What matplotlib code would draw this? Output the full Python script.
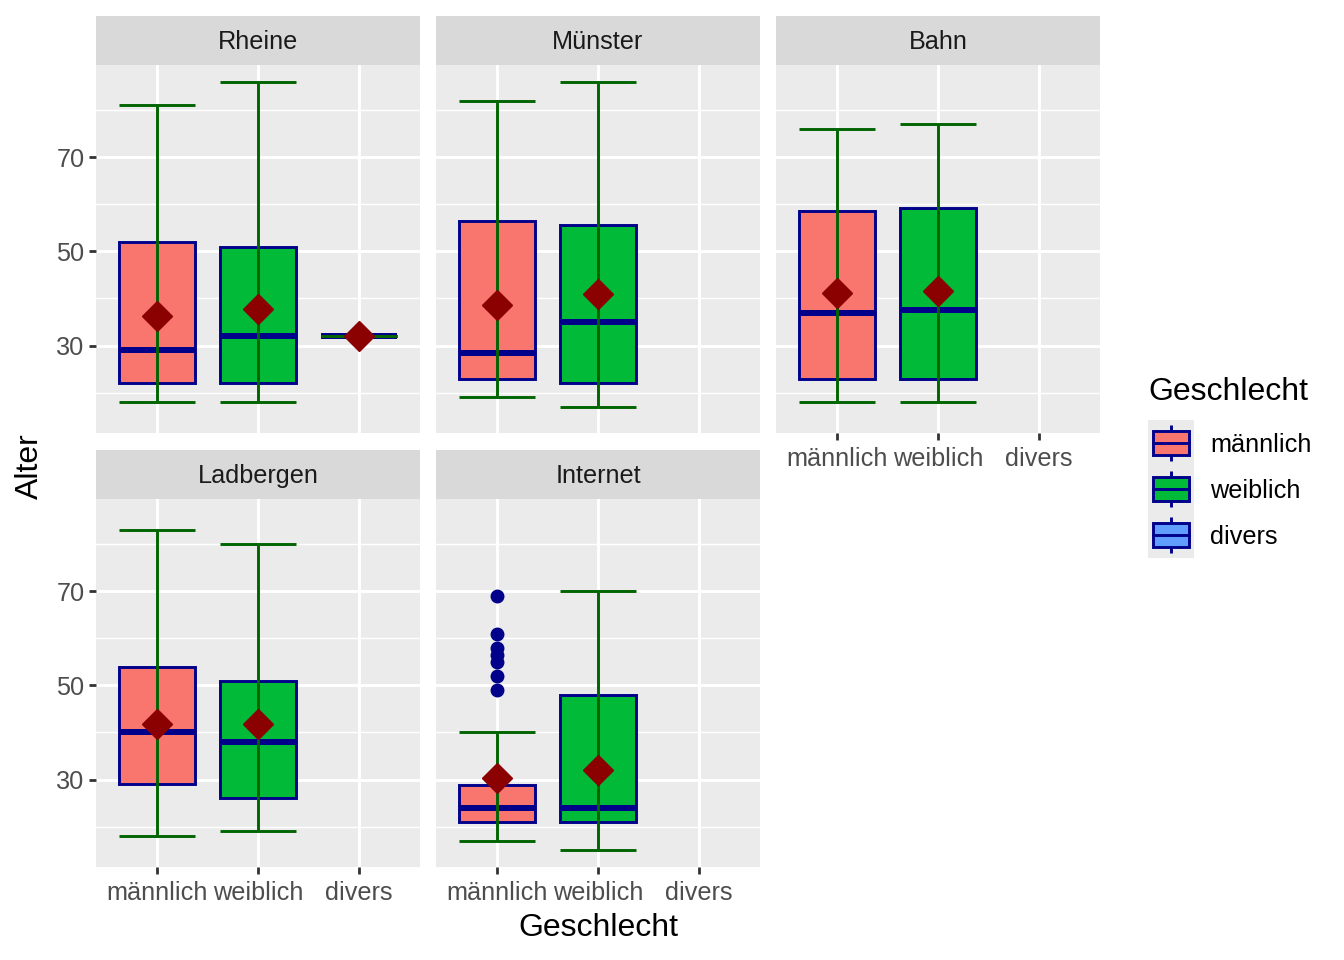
import matplotlib.pyplot as plt
from matplotlib.patches import Rectangle

plt.rcParams['font.family'] = ['Liberation Sans', 'DejaVu Sans']

W, H = 1344, 960

panels = ['Rheine', 'Münster', 'Bahn', 'Ladbergen', 'Internet']
genders = ['männlich', 'weiblich', 'divers']
fills = ['#F8766D', '#00BA38', '#619CFF']

# summary stats per panel, order: männlich, weiblich, divers (None = no data)
whislo = [[18, 18, 32], [19, 17, None], [18, 18, None], [18, 19, None], [17, 15, None]]
q1 = [[22, 22, 32], [23, 22, None], [23, 23, None], [29, 26, None], [21, 21, None]]
med = [[29, 32, 32], [28.5, 35, None], [37, 37.5, None], [40, 38, None], [24, 24, None]]
q3 = [[52, 51, 32], [56.5, 55.5, None], [58.5, 59.25, None], [54, 51, None], [28.75, 48, None]]
whishi = [[81, 86, 32], [82, 86, None], [76, 77, None], [83, 80, None], [40, 70, None]]
means = [[36.2, 37.7, 32], [38.7, 40.9, None], [41.1, 41.5, None], [41.7, 41.7, None], [30.4, 32.1, None]]
fliers = [[[], [], []], [[], [], []], [[], [], []], [[], [], []],
          [[69, 61, 58, 56.5, 55, 52, 49], [], []]]

ymin, ymax = 15, 86
pad = 0.05 * (ymax - ymin)

navy = '#00008B'
green = '#006400'
dred = '#8B0000'

fs_small = 18.2
fs_title = 23

fig = plt.figure(figsize=(W / 100, H / 100), dpi=100)

for i, name in enumerate(panels):
    row, col = divmod(i, 3)
    x0 = 96 + col * 340
    top = 16 + row * 434
    # strip
    sax = fig.add_axes([x0 / W, 1 - (top + 49) / H, 324 / W, 49 / H])
    sax.set_facecolor('#D9D9D9')
    sax.set_xticks([])
    sax.set_yticks([])
    for s in sax.spines.values():
        s.set_visible(False)
    sax.text(0.5, 0.46, name, ha='center', va='center', fontsize=fs_small, color='#1A1A1A',
             transform=sax.transAxes)

    ax = fig.add_axes([x0 / W, 1 - (top + 49 + 368) / H, 324 / W, 368 / H])
    ax.set_facecolor('#EBEBEB')
    for s in ax.spines.values():
        s.set_visible(False)

    stats, pos, cols = [], [], []
    for j in range(3):
        if med[i][j] is None:
            continue
        stats.append(dict(med=med[i][j], q1=q1[i][j], q3=q3[i][j],
                          whislo=whislo[i][j], whishi=whishi[i][j],
                          fliers=fliers[i][j]))
        pos.append(j + 1)
        cols.append(fills[j])
    bp = ax.bxp(stats, positions=pos, widths=0.75, patch_artist=True,
                showcaps=False, showfliers=True, manage_ticks=False,
                boxprops=dict(edgecolor=navy, linewidth=2.1),
                medianprops=dict(color=navy, linewidth=4.3, solid_capstyle='butt'),
                whiskerprops=dict(visible=False),
                flierprops=dict(marker='o', markerfacecolor=navy, markeredgecolor=navy,
                                markersize=9))
    for b, c in zip(bp['boxes'], cols):
        b.set_facecolor(c)

    for j in range(3):
        if med[i][j] is None:
            continue
        x = j + 1
        ax.vlines(x, whislo[i][j], whishi[i][j], color=green, linewidth=2.1, zorder=3)
        ax.hlines([whislo[i][j], whishi[i][j]], x - 0.375, x + 0.375, color=green,
                  linewidth=2.1, zorder=3)
        ax.plot(x, means[i][j], marker='D', color=dred, markersize=15,
                linestyle='none', zorder=4)

    ax.set_xlim(0.4, 3.6)
    ax.set_ylim(ymin - pad, ymax + pad)
    ax.set_xticks([1, 2, 3])
    ax.set_xticklabels(genders)
    ax.set_yticks([30, 50, 70])
    ax.set_yticks([20, 40, 60, 80], minor=True)
    ax.set_axisbelow(True)
    ax.grid(True, which='major', color='white', linewidth=2.1)
    ax.grid(True, which='minor', axis='y', color='white', linewidth=1.05)
    ax.tick_params(which='minor', length=0)
    ax.tick_params(which='major', length=5.3, width=2.0, color='#333333',
                   labelcolor='#4D4D4D', labelsize=fs_small, pad=3.0)
    ax.tick_params(axis='x', pad=5.0)

    show_x = row == 1 or i == 2
    show_y = col == 0
    ax.tick_params(axis='x', bottom=show_x, labelbottom=show_x)
    ax.tick_params(axis='y', left=show_y, labelleft=show_y)

fig.text(598 / W, 1 - 928 / H, 'Geschlecht', ha='center', va='center', fontsize=fs_title)
fig.text(30 / W, 1 - 466 / H, 'Alter', ha='center', va='center', fontsize=fs_title,
         rotation=90)

# legend
fig.text(1148 / W, 1 - 392 / H, 'Geschlecht', ha='left', va='center', fontsize=fs_title)
lax = fig.add_axes([1148 / W, 1 - 558 / H, 46 / W, 138 / H])
lax.set_xlim(0, 1)
lax.set_ylim(3, 0)
lax.axis('off')
for j, g in enumerate(genders):
    lax.add_patch(Rectangle((0, j), 1, 1, facecolor='#EBEBEB', edgecolor='none'))
    lax.plot([0.5, 0.5], [j + 0.1, j + 0.9], color=navy, linewidth=2.1,
             solid_capstyle='butt')
    lax.add_patch(Rectangle((0.1, j + 0.23), 0.8, 0.54, facecolor=fills[j],
                            edgecolor=navy, linewidth=2.1, zorder=3))
    lax.plot([0.1, 0.9], [j + 0.5, j + 0.5], color=navy, linewidth=2.1, zorder=4)
    fig.text(1210 / W, 1 - (420 + 46 * j + 25) / H, g, ha='left', va='center',
             fontsize=fs_small)

plt.savefig('out.png', dpi=100)
